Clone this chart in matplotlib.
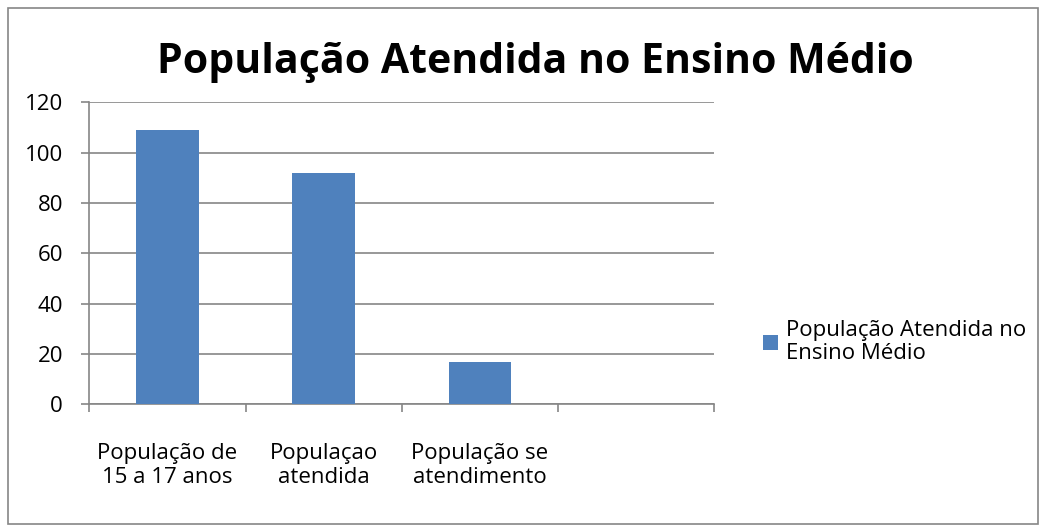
import matplotlib
matplotlib.use("Agg")
import matplotlib.pyplot as plt
from matplotlib.patches import Rectangle

# chart data
categories = ["População de\n15 a 17 anos", "Populaçao\natendida", "População se\natendimento", ""]
values = [109, 92, 17]
series_name = "População Atendida no\nEnsino Médio"
title = "População Atendida no Ensino Médio"
yticks = [0, 20, 40, 60, 80, 100, 120]

plt.rcParams['font.family'] = ['Open Sans', 'DejaVu Sans']

fig = plt.figure(figsize=(10.46, 5.32), dpi=100)
ax = fig.add_axes([0.0854, 0.240, 0.5975, 0.5677])

grid_col = "#868686"
bar_col = "#4F81BD"

# bars
xs = list(range(len(values)))
ax.bar(xs, values, width=0.4, color=bar_col, label=series_name, zorder=3)

ax.set_xlim(-0.5, len(categories) - 0.5)
ax.set_ylim(0, 120)
ax.set_yticks(yticks)
ax.set_yticklabels([str(v) for v in yticks], fontsize=16)
ax.yaxis.grid(True, color=grid_col, linewidth=1.2, zorder=0)

# tick marks at category boundaries, labels at centres
ax.set_xticks([i - 0.5 for i in range(len(categories) + 1)])
ax.set_xticklabels([])
ax.set_xticks(range(len(categories)), minor=True)
ax.set_xticklabels(categories, minor=True, fontsize=16, linespacing=1.2)
ax.tick_params(axis="x", which="minor", length=0, pad=28)
ax.tick_params(axis="x", which="major", length=6, color=grid_col, width=1.2)
ax.tick_params(axis="y", length=6, color=grid_col, width=1.2, pad=13)

for s in ["top", "right"]:
    ax.spines[s].set_visible(False)
for s in ["left", "bottom"]:
    ax.spines[s].set_color(grid_col)
    ax.spines[s].set_linewidth(1.2)

fig.text(0.512, 0.863, title, ha="center", va="baseline", fontsize=29.5, fontweight="bold")

leg = ax.legend(loc="center left", bbox_to_anchor=(0.71, 0.357), bbox_transform=fig.transFigure,
                frameon=False, fontsize=16, handlelength=0.7, handleheight=0.7, handletextpad=0.35)
for t in leg.get_texts():
    t.set_linespacing(1.15)

# outer chart border
fig.patches.append(Rectangle((0.008, 0.015), 0.984, 0.97, transform=fig.transFigure,
                             fill=False, edgecolor=grid_col, linewidth=1.2))

fig.savefig("out.png", dpi=100)
